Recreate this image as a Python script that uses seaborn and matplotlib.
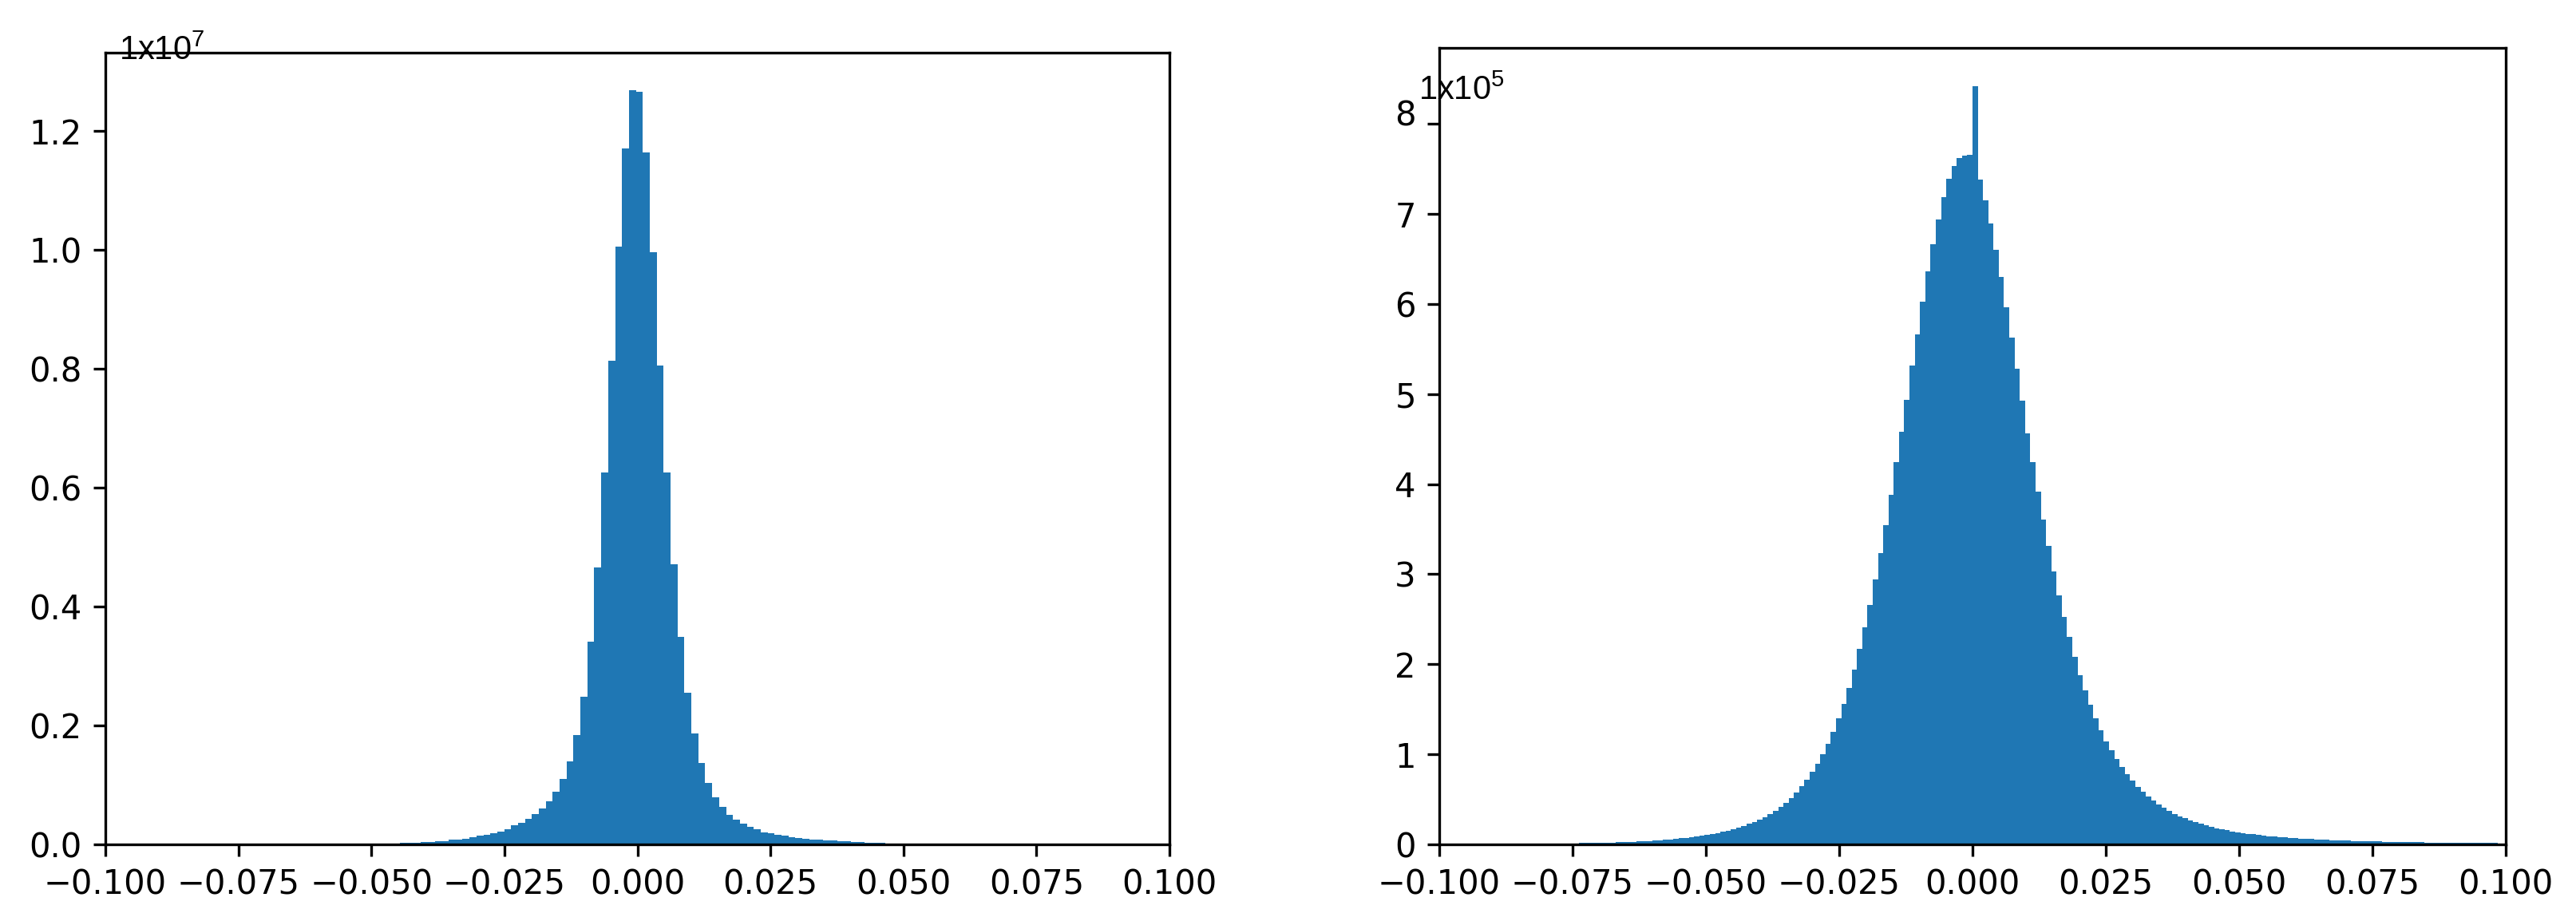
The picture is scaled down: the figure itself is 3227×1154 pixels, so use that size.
import numpy as np
import pandas as pd
import seaborn as sns
import matplotlib as mpl
from matplotlib import pyplot as plt
from matplotlib.ticker import MultipleLocator
from matplotlib.transforms import ScaledTranslation

plt.rcParams['mathtext.default'] = 'regular'

# left histogram: 100 equal bins, heights in units of 1e7
left_range = (-0.0837, 0.04664)
left_counts = [
    0.00001, 0.00001, 0.00001, 0.00002, 0.00002, 0.00003, 0.00003, 0.00004, 0.00005, 0.00006,
    0.00007, 0.00009, 0.0001, 0.00012, 0.00015, 0.00018, 0.00022, 0.00026, 0.0003, 0.00036,
    0.00043, 0.0005, 0.0006, 0.0007, 0.0008, 0.001, 0.0012, 0.0014, 0.0017, 0.002,
    0.0024, 0.0030, 0.0033, 0.0036, 0.0046, 0.0050, 0.0057, 0.0074, 0.0082, 0.0099,
    0.0116, 0.0141, 0.0158, 0.0191, 0.0216, 0.0258, 0.0316, 0.0367, 0.0435, 0.0510,
    0.0602, 0.0728, 0.0887, 0.1097, 0.1399, 0.1836, 0.2482, 0.3413, 0.4654, 0.6257,
    0.8136, 1.0057, 1.1701, 1.2683, 1.2658, 1.1634, 0.9956, 0.8052, 0.6257, 0.4713,
    0.3488, 0.2549, 0.1869, 0.1366, 0.1030, 0.0795, 0.0628, 0.0493, 0.0417, 0.0350,
    0.0292, 0.0250, 0.0208, 0.0183, 0.0158, 0.0141, 0.0124, 0.0107, 0.0099, 0.0086,
    0.0076, 0.0066, 0.0062, 0.0055, 0.0052, 0.0042, 0.0040, 0.0028, 0.0027, 0.0025,
]

# right histogram: 200 equal bins, heights in units of 1e5
right_range = (-0.0985, 0.0985)
right_counts = [
    0.0005, 0.0005, 0.0006, 0.0006, 0.0007, 0.0008, 0.0008, 0.0009, 0.001, 0.0011,
    0.0012, 0.0013, 0.0014, 0.0016, 0.0017, 0.0019, 0.0021, 0.0023, 0.0026, 0.0029,
    0.0032, 0.0036, 0.004, 0.0045, 0.013, 0.014, 0.015, 0.016, 0.017, 0.019,
    0.020, 0.022, 0.024, 0.026, 0.027, 0.029, 0.033, 0.035, 0.037, 0.042,
    0.045, 0.051, 0.054, 0.062, 0.069, 0.073, 0.080, 0.089, 0.098, 0.106,
    0.115, 0.124, 0.142, 0.151, 0.169, 0.186, 0.204, 0.231, 0.248, 0.275,
    0.302, 0.337, 0.373, 0.417, 0.461, 0.515, 0.576, 0.648, 0.720, 0.808,
    0.897, 1.003, 1.114, 1.252, 1.402, 1.563, 1.735, 1.945, 2.167, 2.411,
    2.661, 2.944, 3.238, 3.548, 3.881, 4.241, 4.585, 4.940, 5.317, 5.661,
    6.027, 6.360, 6.665, 6.937, 7.186, 7.391, 7.536, 7.624, 7.646, 7.657,
    8.423, 7.380, 7.153, 6.892, 6.604, 6.299, 5.961, 5.628, 5.278, 4.923,
    4.568, 4.241, 3.920, 3.603, 3.310, 3.027, 2.761, 2.522, 2.300, 2.084,
    1.879, 1.713, 1.552, 1.402, 1.269, 1.147, 1.047, 0.947, 0.858, 0.781,
    0.709, 0.637, 0.587, 0.531, 0.487, 0.443, 0.409, 0.370, 0.337, 0.309,
    0.293, 0.265, 0.248, 0.231, 0.213, 0.195, 0.177, 0.169, 0.160, 0.142,
    0.133, 0.124, 0.117, 0.113, 0.106, 0.098, 0.091, 0.087, 0.082, 0.078,
    0.073, 0.069, 0.064, 0.062, 0.059, 0.055, 0.053, 0.050, 0.047, 0.045,
    0.043, 0.041, 0.039, 0.037, 0.036, 0.035, 0.033, 0.032, 0.030, 0.029,
    0.028, 0.027, 0.026, 0.025, 0.024, 0.023, 0.021, 0.020, 0.020, 0.019,
    0.018, 0.018, 0.017, 0.017, 0.016, 0.016, 0.015, 0.015, 0.014, 0.014,
]

x_ticks = [-0.1, -0.075, -0.05, -0.025, 0.0, 0.025, 0.05, 0.075, 0.1]
scale_labels = [r'1x10$^{7}$', r'1x10$^{5}$']

W, H = 3227, 1154
fig = plt.figure(figsize=(W / 300, H / 300), dpi=300)
ax1 = fig.add_axes([132 / W, (H - 1058) / H, (1465 - 132) / W, (1058 - 66) / H])
ax2 = fig.add_axes([1803 / W, (H - 1058) / H, (3139 - 1803) / W, (1058 - 60) / H])


def draw_hist(ax, rng, counts):
    n = len(counts)
    width = (rng[1] - rng[0]) / n
    df = pd.DataFrame({
        'x': rng[0] + width * (np.arange(n) + 0.5),
        'w': counts,
    })
    sns.histplot(data=df, x='x', weights='w', bins=n, binrange=rng, ax=ax,
                 color='#1f77b4', alpha=1, edgecolor='none', linewidth=0)
    ax.set_xlim(-0.1, 0.1)
    ax.set_xticks(x_ticks)
    ax.set_ylabel('')
    ax.set_xlabel('')


draw_hist(ax1, left_range, left_counts)
ax1.yaxis.set_major_locator(MultipleLocator(0.2))
draw_hist(ax2, right_range, right_counts)
ax2.yaxis.set_major_locator(MultipleLocator(1))

fig.text(149 / W, 1 - 75 / H, scale_labels[0], fontsize=10,
         family='Liberation Sans', va='baseline')
fig.text(1777 / W, 1 - 125 / H, scale_labels[1], fontsize=10,
         family='Liberation Sans', va='baseline')

# the top label of the right plot sits a bit above its tick in the original
fig.canvas.draw()
for lbl in ax2.get_yticklabels():
    if lbl.get_text() == '8':
        lbl.set_transform(lbl.get_transform()
                          + ScaledTranslation(0, 14 / 300, fig.dpi_scale_trans))

fig.savefig('out.png', dpi=300)
